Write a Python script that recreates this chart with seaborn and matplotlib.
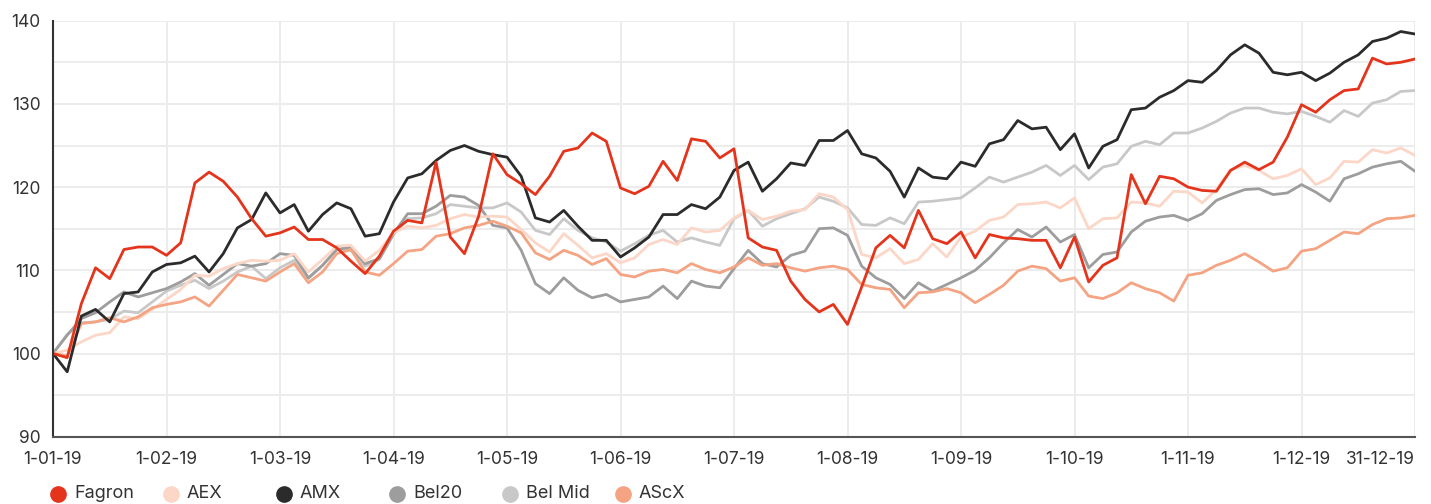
import matplotlib
matplotlib.use('Agg')
import matplotlib.pyplot as plt
import seaborn as sns
import pandas as pd
import numpy as np
from matplotlib.ticker import MultipleLocator
from matplotlib.lines import Line2D

# Indexed performance 2019 (start = 100), sampled every 1/8 month
tick_labels = ['1-01-19', '1-02-19', '1-03-19', '1-04-19', '1-05-19', '1-06-19',
               '1-07-19', '1-08-19', '1-09-19', '1-10-19', '1-11-19', '1-12-19', '31-12-19']
series_names = ['Fagron', 'AEX', 'AMX', 'Bel20', 'Bel Mid', 'AScX']

fagron = [100, 99.5, 106, 110.3, 109, 112.5, 112.8, 112.8, 111.8, 113.3, 120.5, 121.8, 120.7, 118.8, 116.2, 114.1, 114.5,
          115.2, 113.7, 113.7, 112.7, 111.1, 109.6, 111.7, 114.7, 116, 115.7, 123, 114, 112,
          116.5, 124, 121.5, 120.4, 119.1, 121.3, 124.3, 124.7, 126.5, 125.5, 119.9, 119.2, 120.1, 123.1, 120.8, 125.8, 125.5, 123.5, 124.6,
          113.9, 112.8, 112.4, 108.7, 106.5, 105, 105.9, 103.5, 108, 112.7, 114.2, 112.7, 117.2, 113.8, 113.2,
          114.6, 111.5, 114.3, 113.9, 113.8, 113.6, 113.6, 110.3, 114, 108.6, 110.6, 111.5, 121.5, 118, 121.3, 121, 120,
          119.6, 119.5, 122, 123, 122.1, 123, 126, 129.9, 129, 130.5, 131.6, 131.8, 135.5, 134.8, 135, 135.4]

aex = [100, 100.4, 101.4, 102.2, 102.5, 104.4, 104.2, 105.3, 106.5, 107.7, 109.4, 109.3, 110.2, 110.8, 111.2, 111.1, 111.2,
       112, 109.8, 111.3, 112.9, 113, 111.1, 112.4, 114.5, 115.3, 115.1, 115.4, 116.2, 116.7,
       116.4, 116.5, 116.4, 114.9, 113.3, 112.2, 114.4, 113, 111.5, 112, 110.9, 111.5, 113.1, 113.7, 113.1, 115.1, 114.6, 114.8, 116.3,
       117.2, 116.1, 116.5, 117.1, 117.3, 119.2, 118.8, 117.3, 111.9, 111.5, 112.6, 110.8, 111.3, 113.2, 111.6,
       114, 114.7, 116, 116.4, 117.9, 118, 118.2, 117.5, 118.7, 115, 116.2, 116.3, 118.2, 118.1, 117.7, 119.5, 119.4,
       118.1, 119.7, 122.1, 122.6, 122, 121, 121.4, 122.2, 120.3, 121.1, 123.1, 123, 124.5, 124.1, 124.7, 123.8]

amx = [100, 97.8, 104.5, 105.3, 103.8, 107.2, 107.4, 109.8, 110.7, 110.9, 111.7, 109.8, 112, 115.1, 116.1, 119.3, 116.9,
       117.9, 114.7, 116.7, 118.1, 117.4, 114.1, 114.4, 118.2, 121.1, 121.6, 123.2, 124.4, 125,
       124.3, 123.9, 123.6, 121.3, 116.3, 115.8, 117.2, 115.3, 113.6, 113.6, 111.6, 112.7, 114, 116.7, 116.7, 117.9, 117.4, 118.8, 122,
       123, 119.5, 121, 122.9, 122.6, 125.6, 125.6, 126.8, 124, 123.5, 121.9, 118.8, 122.3, 121.2, 121,
       123, 122.5, 125.2, 125.7, 128, 127, 127.2, 124.5, 126.4, 122.3, 124.9, 125.7, 129.3, 129.5, 130.8, 131.6, 132.8,
       132.6, 134, 135.9, 137.1, 136.1, 133.8, 133.5, 133.8, 132.8, 133.7, 135, 135.9, 137.5, 137.9, 138.7, 138.4]

bel20 = [100, 102.2, 104.2, 104.9, 106.2, 107.4, 106.8, 107.3, 107.8, 108.6, 109.6, 108.2, 109.5, 110.8, 110.5, 110.8, 112,
         111.8, 109.1, 110.6, 112.5, 112.8, 110.8, 111.4, 114.4, 116.8, 116.8, 117.7, 119, 118.8,
         117.8, 115.4, 115.1, 112.4, 108.4, 107.2, 109.1, 107.6, 106.7, 107.1, 106.2, 106.5, 106.8, 108.1, 106.6, 108.7, 108.1, 107.9, 110.2,
         112.4, 110.8, 110.4, 111.8, 112.3, 115, 115.1, 114.2, 110.5, 109.1, 108.3, 106.6, 108.5, 107.5, 108.3,
         109.1, 110, 111.5, 113.3, 114.9, 114, 115.2, 113.4, 114.3, 110.3, 111.9, 112.2, 114.6, 115.9, 116.4, 116.6, 116,
         116.8, 118.4, 119.1, 119.7, 119.8, 119.1, 119.3, 120.3, 119.4, 118.3, 121, 121.6, 122.4, 122.8, 123.1, 121.9]

bel_mid = [100, 102.3, 103.7, 103.8, 104.1, 105.1, 104.9, 106.2, 107.5, 108.2, 108.8, 107.8, 108.7, 109.8, 110.5, 109, 110.3,
           111.2, 109, 110.6, 112.5, 112.4, 110.5, 111.3, 114.3, 116.2, 116.3, 116.8, 117.9, 117.7,
           117.5, 117.5, 118.1, 117, 114.8, 114.3, 116.2, 114.8, 113.9, 113.4, 112.3, 113.2, 114.2, 114.8, 113.4, 113.9, 113.4, 113, 116.2,
           117.2, 115.3, 116.2, 116.8, 117.4, 118.8, 118.3, 117.5, 115.5, 115.4, 116.3, 115.6, 118.2, 118.3, 118.5,
           118.7, 119.9, 121.2, 120.6, 121.2, 121.8, 122.6, 121.4, 122.6, 120.9, 122.4, 122.8, 124.9, 125.5, 125.1, 126.5, 126.5,
           127.1, 127.9, 128.9, 129.5, 129.5, 129, 128.8, 129.1, 128.5, 127.8, 129.2, 128.5, 130.1, 130.5, 131.5, 131.6]

ascx = [100, 99.7, 103.6, 103.8, 104.3, 103.8, 104.4, 105.5, 105.9, 106.2, 106.8, 105.7, 107.6, 109.5, 109.1, 108.7, 109.8,
        110.8, 108.5, 109.8, 112, 112.5, 109.8, 109.4, 110.8, 112.3, 112.5, 114.1, 114.4, 115.1,
        115.4, 115.9, 115.3, 114.5, 112.1, 111.3, 112.4, 111.8, 110.7, 111.4, 109.5, 109.2, 109.9, 110.1, 109.7, 110.8, 110.1, 109.7, 110.4,
        111.5, 110.6, 110.8, 110.3, 109.9, 110.3, 110.5, 110.1, 108.3, 107.9, 107.7, 105.5, 107.3, 107.4, 107.8,
        107.3, 106.1, 107.1, 108.2, 109.9, 110.5, 110.2, 108.7, 109.1, 106.9, 106.6, 107.3, 108.5, 107.8, 107.3, 106.3, 109.4,
        109.7, 110.6, 111.2, 112, 111, 109.9, 110.3, 112.3, 112.6, 113.6, 114.6, 114.4, 115.5, 116.2, 116.3, 116.6]

colors = {'Fagron': '#e4341c', 'AEX': '#fcd6c6', 'AMX': '#2b2b2b',
          'Bel20': '#9d9d9d', 'Bel Mid': '#c8c8c8', 'AScX': '#f4a483'}

values = {'Fagron': fagron, 'AEX': aex, 'AMX': amx, 'Bel20': bel20, 'Bel Mid': bel_mid, 'AScX': ascx}
step = np.arange(len(fagron))
df = pd.concat([pd.DataFrame({'step': step, 'value': v, 'series': k}) for k, v in values.items()])

sns.set_style("white")
plt.rcParams['font.family'] = ['Inter', 'DejaVu Sans']

fig = plt.figure(figsize=(14.31, 5.04), dpi=100)
ax = fig.add_axes([53 / 1431, 1 - 436.7 / 504, (1415 - 53) / 1431, (436.7 - 20.7) / 504])

# draw order: light lines first, Fagron on top
for name in ['Bel Mid', 'Bel20', 'AEX', 'AScX', 'AMX', 'Fagron']:
    sub = df[df['series'] == name]
    sns.lineplot(data=sub, x='step', y='value', color=colors[name], linewidth=2.0,
                 ax=ax, legend=False, estimator=None)

ax.set_xlim(0, 96)
ax.set_ylim(90, 140)
ax.set_xticks(np.arange(0, 97, 8))
ax.set_xticklabels(tick_labels)
ax.get_xticklabels()[-1].set_ha('right')
ax.set_yticks(np.arange(90, 141, 10))
ax.yaxis.set_minor_locator(MultipleLocator(5))
ax.grid(True, which='both', color='#ececec', linewidth=1.4)
ax.set_axisbelow(True)
ax.tick_params(axis='both', which='both', length=0, labelsize=12.5, colors='#333333')
ax.tick_params(axis='y', pad=9)
ax.tick_params(axis='x', pad=10)
ax.set_xlabel('')
ax.set_ylabel('')
for side in ['top', 'right']:
    ax.spines[side].set_visible(False)
ax.spines['left'].set_color('#333333')
ax.spines['left'].set_linewidth(1.5)
ax.spines['bottom'].set_color('#555555')
ax.spines['bottom'].set_linewidth(1.5)

# legend row, equally spaced entries
for j, name in enumerate(series_names):
    x0 = (58 + 113 * j) / 1431
    y0 = 1 - 494 / 504
    fig.add_artist(Line2D([x0], [y0], marker='o', markersize=11, color=colors[name],
                          linestyle='none', transform=fig.transFigure))
    fig.text(x0 + 16 / 1431, y0, name, fontsize=13, color='#333333', va='center', ha='left')

plt.savefig('out.png', dpi=100)
plt.close()
